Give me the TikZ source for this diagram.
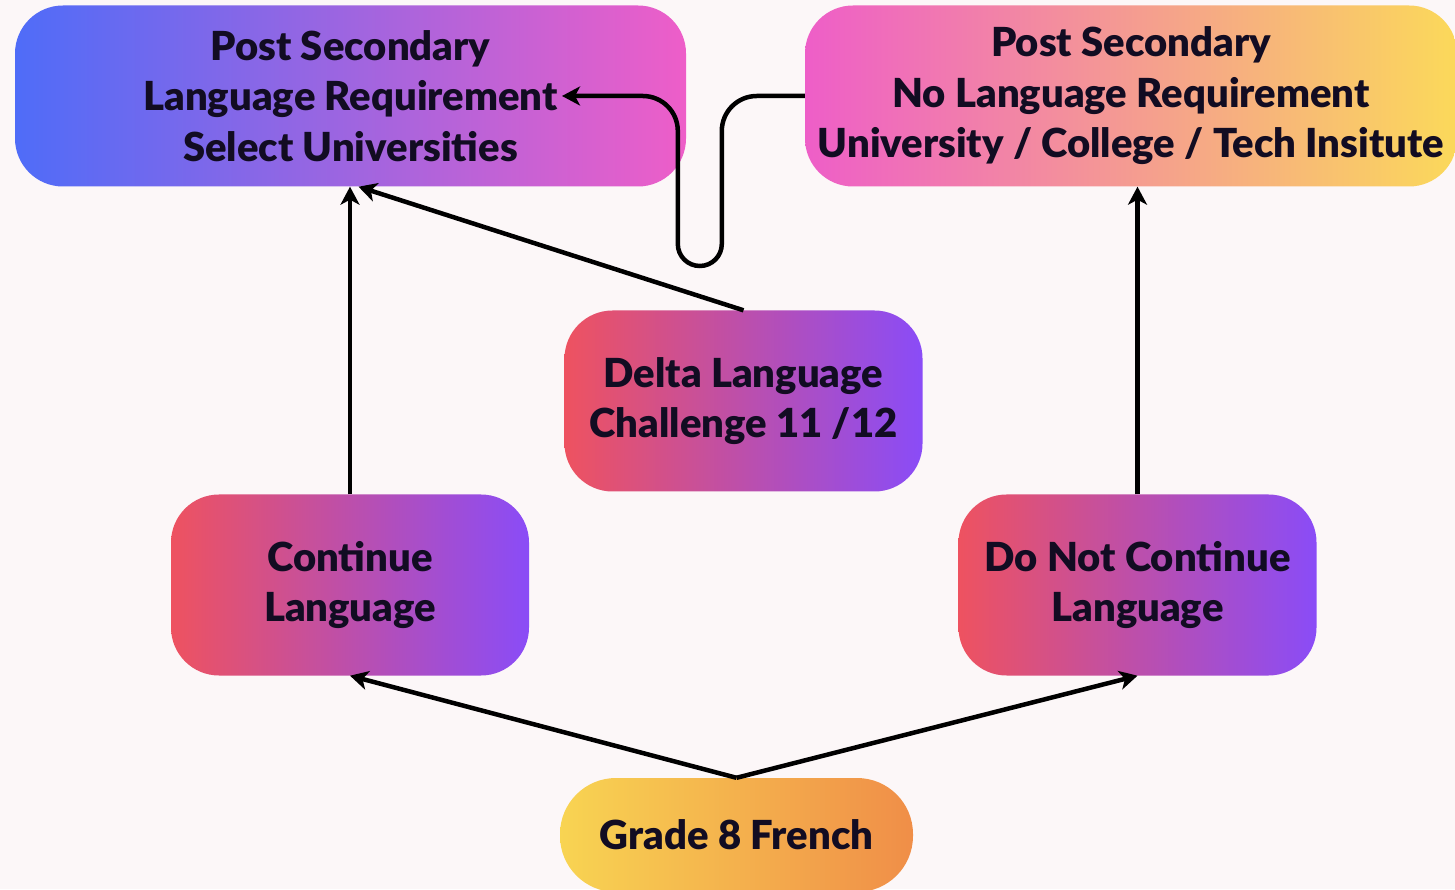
\documentclass[tikz,border=0pt]{standalone}
\usepackage{fontspec}
\setmainfont{Lato}[BoldFont={Lato Black}]
\usetikzlibrary{arrows.meta,positioning}

\definecolor{bg}{HTML}{FCF7F8}
\definecolor{ink}{HTML}{120C22}
\definecolor{cBlue}{HTML}{4F6CF8}
\definecolor{cPink}{HTML}{EE5EC8}
\definecolor{cGold}{HTML}{FBD95A}
\definecolor{cRed}{HTML}{EE5260}
\definecolor{cViolet}{HTML}{8A4CF7}
\definecolor{cYellow}{HTML}{F8D452}
\definecolor{cOrange}{HTML}{F08E48}

\begin{document}
\begin{tikzpicture}[x=1pt, y=1pt]
  \tikzset{BoxStyle/.style = {rectangle,
                              rounded corners = 48pt,
                              text            = ink,
                              align           = center,
                              inner sep       = 0pt,
                              font            = \fontsize{40}{50.5}\selectfont\bfseries},
           topleft/.style   = {BoxStyle, left color=cBlue, right color=cPink,
                               minimum width=671pt, minimum height=181pt},
           topright/.style  = {BoxStyle, left color=cPink, right color=cGold,
                               minimum width=652pt, minimum height=181pt},
           redbox/.style    = {BoxStyle, left color=cRed, right color=cViolet,
                               minimum width=358pt, minimum height=181pt},
           gradebox/.style  = {BoxStyle, left color=cYellow, right color=cOrange,
                               rounded corners=56pt,
                               minimum width=353pt, minimum height=114pt},
           link/.style      = {draw=black, line width=4.5pt,
                               -{Stealth[length=18pt, width=19pt, inset=5pt]}}}
  \useasboundingbox[fill=bg] (0,0) rectangle (1455,889);
  %%% BOXES %%%
  \node[topleft]  (post1) at (350.5,793) {Post Secondary\\Language Requirement\\Select Universities};
  \node[topright] (post2) at (1131,793)  {Post Secondary\\No Language Requirement\\University / College / Tech Insitute};
  \node[redbox]   (delta) at (743.5,488) {Delta Language\\Challenge 11 /12};
  \node[redbox]   (cont)  at (350,304)   {Continue\\Language};
  \node[redbox]   (stop)  at (1137.5,304) {Do Not Continue\\Language};
  \node[gradebox] (grade) at (736.5,54)  {Grade 8 French};
  %%% LINKS %%%
  \coordinate (hook) at (562,793);
  \draw[link] (grade.north) -- (cont.south);
  \draw[link] (grade.north) -- (stop.south);
  \draw[link] (cont.north) -- (cont.north |- post1.south);
  \draw[link] (stop.north) -- (stop.north |- post2.south);
  \draw[link] (delta.north) -- ([xshift=8pt]post1.south);
  \draw[link] (post2.west) -- ++(-48,0) arc[start angle=90, end angle=180, radius=35]
              -- ++(0,-113) arc[start angle=0, end angle=-180, radius=22]
              -- ++(0,113) arc[start angle=0, end angle=90, radius=35] -- (hook);
\end{tikzpicture}
\end{document}
